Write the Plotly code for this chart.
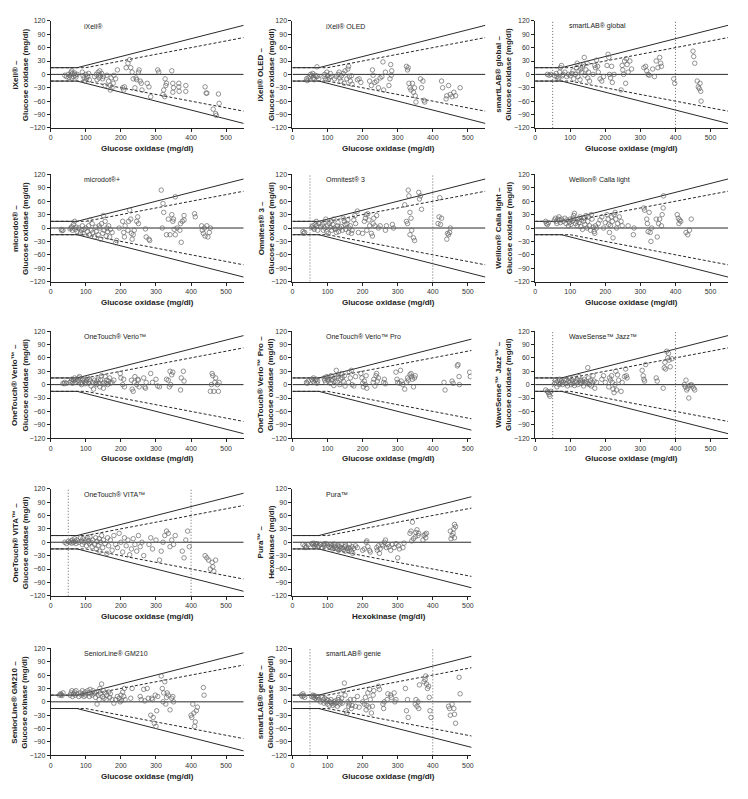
import plotly.graph_objects as go

# ---------------- data (x = reference method mg/dl, y = difference mg/dl) ----------------
X_IXELL = [40,45,50,55,58,60,62,65,68,70,72,75,60,52,90,92,95,100,102,105,108,110,98,125,130,135,138,140,142,145,148,150,132,155,160,165,170,172,175,178,170,180,190,185,205,208,210,215,220,225,228,232,235,240,243,245,250,252,255,258,260,275,280,285,305,308,320,325,322,326,328,330,345,348,350,348,365,365,366,385,385,440,443,445,463,470,472,478,480]
Y_IXELL = [-2,-5,0,-3,5,-8,2,-5,3,-2,-6,0,8,-7,5,-3,-8,0,-10,-5,2,-12,-15,-5,0,5,-8,8,-3,2,-10,-5,-12,-25,-2,-15,-25,-8,-30,-20,-35,-2,10,-10,-30,-35,-28,15,25,33,15,5,-10,-30,-8,-12,5,10,-15,-20,-35,-20,-28,-50,10,5,-45,-50,-35,-10,-25,-20,8,-20,-30,-40,-20,-28,-38,-25,-38,-28,-42,-42,-78,-88,-92,-44,-65]

X_OLED = [40,42,45,50,55,58,60,62,65,68,70,72,75,52,90,92,95,98,100,102,105,108,110,120,125,130,133,135,138,140,145,148,150,155,158,160,162,165,168,170,185,190,195,220,225,228,230,235,240,245,250,255,258,260,265,275,278,280,282,283,325,328,330,332,335,338,342,345,348,350,352,365,368,372,375,377,425,428,438,440,445,450,455,460,465,478]
Y_OLED = [-10,-14,-8,-5,-3,2,-8,-12,-2,-5,17,-4,-10,0,-5,0,-10,5,-3,-12,-8,2,-5,-10,-5,0,5,-8,-15,-3,2,-20,8,-10,12,18,-5,-15,-3,-22,-12,-10,-18,-15,-25,10,-2,-18,-15,-30,-8,-5,28,-35,5,-25,-10,22,-2,8,18,10,15,-20,-30,-35,-20,-40,-30,-48,-62,-10,-30,-15,-58,-62,-15,-30,-55,-48,-25,-45,-50,-40,-48,-30]

X_SLGLOBAL = [35,40,45,55,60,62,65,68,70,72,75,78,80,85,90,95,100,105,108,110,115,118,120,122,125,128,130,132,135,138,140,142,145,148,150,152,155,165,170,172,175,178,180,185,190,195,205,208,210,212,215,218,220,225,245,248,250,252,255,258,260,262,265,270,275,310,315,318,322,325,335,340,345,350,355,358,360,395,398,450,452,455,462,465,468,470,472,473]
Y_SLGLOBAL = [0,-2,0,-3,2,-5,-10,-8,5,15,20,-3,0,5,-5,0,-3,2,8,-10,0,15,25,-5,8,-12,12,5,18,22,38,-2,10,25,-8,5,-15,0,20,15,32,18,5,-10,-15,-5,20,45,38,0,-8,18,-18,0,-35,20,10,0,30,-20,35,22,5,30,12,15,18,8,0,-2,12,-5,30,15,38,25,18,-10,-20,52,40,25,-15,-28,-32,-20,-38,-60]

X_MICRODOT = [30,32,35,55,58,60,62,65,68,70,72,75,80,85,88,90,92,95,100,105,108,110,112,115,118,120,125,128,130,135,138,140,142,145,148,150,152,155,158,160,162,165,168,170,175,185,188,195,205,208,210,212,220,222,225,228,230,232,235,238,245,248,250,270,272,280,282,315,318,320,322,330,335,340,345,348,350,352,355,355,360,368,370,372,375,380,380,410,412,430,432,435,438,440,445,448,452,455]
Y_MICRODOT = [-3,-6,-5,-2,0,3,-5,8,15,-3,2,-8,0,-10,-5,5,-12,-3,0,-8,5,-15,18,-5,10,-10,-20,2,-8,-15,5,0,-25,10,-12,28,-5,15,-18,0,-8,5,-20,-3,-10,-33,-28,0,15,-10,-20,5,-5,15,40,20,-12,-25,-15,-5,15,25,10,-2,-20,-25,-28,85,0,55,35,-15,20,-15,30,15,20,-3,70,-15,0,-5,10,-32,15,28,18,32,25,5,-5,-12,0,-18,5,-20,-10,0]

X_OMNITEST = [30,32,35,55,58,60,62,65,68,70,72,75,80,85,88,90,92,95,98,100,102,105,108,110,112,115,118,120,122,125,128,130,132,135,140,142,145,148,150,152,155,158,160,162,165,168,170,175,178,180,185,188,200,205,208,210,212,215,218,220,225,228,230,232,235,240,245,250,265,268,285,288,320,325,328,330,332,335,335,338,340,345,348,360,362,365,368,415,418,420,422,425,440,442,445,448,450]
Y_OMNITEST = [-8,-12,-10,2,5,0,-3,8,15,5,-5,10,3,8,-5,12,0,20,-8,5,-12,10,2,15,-5,8,20,0,-3,-10,5,12,-8,0,3,-5,22,15,8,-3,10,18,-10,0,5,-12,-5,18,28,10,38,-10,-12,15,22,30,-5,32,18,5,-12,-18,10,22,5,28,0,5,-5,5,8,0,52,15,10,85,72,35,-15,22,-5,-22,-28,80,65,72,42,10,25,68,8,22,-25,-12,-15,-10,0]

X_WELLION = [30,32,35,38,55,58,60,62,65,68,70,72,75,80,85,88,90,95,98,100,102,105,108,110,112,115,118,120,122,125,128,130,132,135,138,140,142,145,148,150,152,155,158,160,162,165,168,170,172,175,180,185,190,195,200,205,208,210,212,215,218,220,222,225,228,230,232,235,240,245,248,265,280,282,310,312,318,320,322,325,328,330,332,345,348,352,355,360,362,365,366,405,408,410,412,415,430,435,440,445]
Y_WELLION = [15,10,8,12,18,22,15,10,20,25,18,12,20,15,22,10,18,5,12,20,8,15,22,28,33,10,15,5,20,12,25,3,18,-3,15,22,8,28,0,15,25,5,-5,30,20,2,-8,-12,5,0,10,18,25,0,12,30,20,8,-10,5,25,15,-22,30,35,20,0,10,25,15,5,5,-15,0,45,40,20,10,-8,35,-10,-30,0,20,-20,10,20,5,30,45,72,30,22,10,18,15,-10,-15,-5,20]

X_VERIO = [35,38,40,45,55,58,60,62,65,68,70,72,75,78,80,82,85,88,90,92,95,98,100,102,105,108,110,112,115,120,122,125,128,130,132,135,138,140,142,145,148,150,152,155,158,160,162,165,168,170,175,180,198,200,205,208,210,230,232,235,238,240,245,248,250,252,265,268,270,272,285,290,300,305,310,330,335,338,340,342,345,348,370,372,378,380,455,458,460,462,465,468,470,475,478,480]
Y_VERIO = [3,2,5,3,5,8,12,3,10,15,5,12,8,10,15,18,3,0,5,12,8,2,5,10,15,3,12,8,-3,5,-10,10,3,0,8,12,3,-5,10,20,2,-8,5,18,3,10,0,8,15,3,5,10,25,15,0,12,-5,10,-10,-15,5,18,0,12,10,-5,15,-5,-8,5,25,5,12,-3,-5,12,10,-5,30,0,22,28,-12,15,30,8,-15,0,25,20,-15,5,15,0,-15,5]

X_VERIOPRO = [40,42,45,55,58,60,62,65,68,70,72,90,92,95,98,100,102,105,108,110,112,115,118,120,122,125,128,130,132,135,138,140,142,145,148,150,160,162,165,168,170,175,180,195,198,200,202,205,208,210,212,230,232,235,238,240,242,245,260,262,265,295,298,300,305,308,310,315,320,325,328,330,335,338,340,342,345,348,350,432,435,455,458,470,472,475,476,505,507]
Y_VERIOPRO = [5,3,8,12,8,15,5,10,12,3,8,15,10,5,18,12,8,15,3,20,10,12,-2,15,8,32,5,18,22,0,12,25,15,8,20,-3,5,28,15,32,0,-3,18,25,15,3,-5,8,0,20,-8,5,12,-3,20,25,8,15,5,12,2,28,12,5,3,32,8,0,-10,5,15,10,22,25,18,12,-5,15,20,5,-12,8,3,42,45,18,0,28,18]

X_WAVESENSE = [30,35,38,40,42,45,55,58,60,62,65,68,70,72,75,78,80,85,88,90,92,95,98,100,102,105,108,110,112,115,118,120,122,125,128,130,132,135,138,140,142,145,148,150,152,155,158,160,162,165,168,170,175,190,195,200,210,212,215,218,220,222,225,228,230,232,235,238,245,248,255,258,260,262,305,308,310,312,315,345,348,365,368,370,372,375,378,380,382,385,390,425,428,430,432,435,438,440,445,448,452,455]
Y_WAVESENSE = [-12,-15,-18,-22,-26,-15,2,10,5,-5,8,0,12,3,8,0,5,10,2,12,-3,8,15,5,0,10,3,15,-2,8,5,12,0,18,5,10,3,8,-3,12,5,8,2,38,15,0,10,-3,5,20,8,-8,5,12,20,5,-5,15,10,20,5,-10,-18,0,30,-12,22,10,-15,5,18,35,20,15,32,20,12,8,45,15,8,-8,38,50,35,75,60,70,55,40,58,0,-5,10,-12,-8,-30,-2,0,-3,-8,-12]

X_VITA = [40,45,50,55,58,60,62,65,68,70,72,75,80,85,88,90,92,95,100,102,105,108,110,112,115,118,120,125,128,130,132,135,138,140,142,145,148,150,155,160,162,165,170,175,180,185,190,195,200,205,210,215,220,225,230,235,240,245,250,255,260,265,280,285,290,300,310,315,320,325,330,335,340,345,350,355,375,380,385,390,395,440,445,450,455,460,462,465,470]
Y_VITA = [0,-3,2,0,3,-2,5,0,8,2,-3,5,0,10,3,-5,8,0,5,-8,10,3,-3,12,0,-10,5,-5,10,-15,2,-8,8,-20,0,15,-12,5,-3,-25,10,-8,5,-18,15,-5,-12,20,0,-22,10,-8,5,-28,-15,8,-5,-20,15,-10,0,-30,-5,10,-15,5,-40,-20,0,15,25,20,-10,5,-5,15,-20,-35,5,25,-10,-30,-35,-40,-60,-45,-55,-65,-40]

X_PURA = [30,35,38,40,45,55,58,60,62,65,68,70,72,75,80,85,88,90,92,95,100,105,108,110,112,115,118,120,122,125,128,130,132,135,138,140,142,145,148,150,152,155,158,160,162,165,168,170,172,175,180,185,200,205,210,212,215,220,222,240,242,245,248,250,255,258,262,265,268,272,275,280,285,290,295,300,302,305,315,318,335,338,340,342,345,350,352,355,358,360,372,375,378,380,382,450,452,455,458,460,462,465,462]
Y_PURA = [-5,-8,-12,-10,-6,-3,-5,-2,-8,-4,-6,-3,-10,-8,-5,-12,-6,-4,-8,-3,-6,-10,-5,-12,-8,-15,-4,-10,-6,-12,-15,-8,-18,-10,-14,-6,-12,-16,-10,-20,-8,-14,-18,-12,-5,-15,-20,-10,-25,-14,-8,-12,-18,-15,0,3,-10,-18,-22,-12,-18,-8,-25,-15,-5,-8,0,5,-12,-5,-10,-18,-5,-12,-3,-35,-8,-15,-12,-2,20,25,3,45,8,12,22,28,15,20,5,15,18,10,20,25,8,15,20,30,40,35,10]

X_SENIOR = [25,28,30,32,35,55,58,60,62,65,68,70,72,75,80,85,88,90,92,95,98,100,105,108,110,112,115,118,120,125,128,130,132,135,138,140,142,145,148,150,152,155,158,160,165,168,170,175,180,185,190,195,198,200,202,205,208,210,212,228,232,255,258,265,268,275,278,285,288,290,292,295,298,300,302,305,315,318,320,322,325,328,330,332,335,340,345,348,350,400,402,405,408,410,412,415,418,435,437]
Y_SENIOR = [15,18,16,14,20,15,20,25,12,18,22,15,25,18,12,20,15,25,18,12,22,15,25,20,12,28,18,15,25,20,10,22,-5,15,5,30,18,40,12,25,8,20,5,15,22,10,18,5,-3,5,12,8,0,15,3,22,12,30,5,8,30,12,5,28,2,30,8,-30,8,5,-35,-48,15,-55,-20,12,58,30,0,20,45,-5,10,20,15,-18,8,12,0,-30,-35,-5,-25,-55,-45,-20,-12,32,15]

X_SLGENIE = [25,28,30,32,35,55,58,60,62,65,68,70,72,75,80,85,88,90,92,95,98,100,102,105,108,110,112,115,118,120,122,125,128,130,132,135,138,140,142,145,148,150,152,155,158,160,162,165,168,170,175,180,185,190,200,205,208,210,212,215,218,220,222,225,228,230,232,245,248,258,260,262,270,272,280,282,290,292,295,322,325,328,330,350,352,355,358,360,362,375,378,380,382,385,388,390,392,395,445,448,450,455,460,462,465,475,478]
Y_SLGENIE = [15,12,18,14,10,12,15,10,14,8,12,5,10,5,0,10,5,-3,8,0,5,-5,3,-8,0,5,-3,-8,0,-5,2,-2,-10,5,10,-5,0,8,-3,25,42,15,-20,-25,0,-10,-5,5,-15,-8,5,-10,12,-12,0,-5,10,-18,-8,20,-12,28,5,-25,-10,15,25,35,28,-5,-15,0,5,18,15,10,20,0,5,30,-20,5,-35,-5,5,-10,0,-15,38,45,50,58,40,30,35,10,-20,-35,-10,-15,-30,-5,-15,-28,-48,55,18]

# ISO 15197 acceptance-limit vertices
ISO2003_X = [0, 75, 550]
ISO2003_Y = [15, 15, 110]
ISO2013_X = [0, 100, 550]
ISO2013_Y = [15, 15, 82.5]
RANGE_LINES_X = [50, 400]

TICKS_X = [0, 100, 200, 300, 400, 500]
TICKS_Y = [-120, -90, -60, -30, 0, 30, 60, 90, 120]

GOX = "Glucose oxidase (mg/dl)"
panels = [
    ("iXell®", "iXell® –", GOX, GOX, X_IXELL, Y_IXELL, 0, 0, 550, False),
    ("iXell® OLED", "iXell® OLED –", GOX, GOX, X_OLED, Y_OLED, 0, 1, 550, False),
    ("smartLAB® global", "smartLAB® global –", GOX, GOX, X_SLGLOBAL, Y_SLGLOBAL, 0, 2, 550, True),
    ("microdot®+", "microdot® –", GOX, GOX, X_MICRODOT, Y_MICRODOT, 1, 0, 550, False),
    ("Omnitest® 3", "Omnitest® 3 –", GOX, GOX, X_OMNITEST, Y_OMNITEST, 1, 1, 550, True),
    ("Wellion® Calla light", "Wellion® Calla light –", GOX, GOX, X_WELLION, Y_WELLION, 1, 2, 550, False),
    ("OneTouch® Verio™", "OneTouch® Verio™ –", GOX, GOX, X_VERIO, Y_VERIO, 2, 0, 550, False),
    ("OneTouch® Verio™ Pro", "OneTouch® Verio™ Pro –", GOX, GOX, X_VERIOPRO, Y_VERIOPRO, 2, 1, 510, False),
    ("WaveSense™ Jazz™", "WaveSense™ Jazz™ –", GOX, GOX, X_WAVESENSE, Y_WAVESENSE, 2, 2, 550, True),
    ("OneTouch® VITA™", "OneTouch® VITA™ –", GOX, GOX, X_VITA, Y_VITA, 3, 0, 550, True),
    ("Pura™", "Pura™ –", "Hexokinase (mg/dl)", "Hexokinase (mg/dl)", X_PURA, Y_PURA, 3, 1, 510, False),
    ("SeniorLine® GM210", "SeniorLine® GM210 –", "Glucose oxinase (mg/dl)", GOX, X_SENIOR, Y_SENIOR, 4, 0, 550, False),
    ("smartLAB® genie", "smartLAB® genie –", "Glucose oxinase (mg/dl)", GOX, X_SLGENIE, Y_SLGENIE, 4, 1, 510, True),
]

W, H = 748, 799
COL_L = [49, 292, 536]
PX_PER_UNIT = 194 / 550
ROW_T = [17, 172, 330, 489, 650]
ROW_H = 108
YT_X = [18, 265, 504]
FONT = "Arial, Liberation Sans, sans-serif"
LINE_C = "#2a2a2a"

fig = go.Figure()
layout = dict()
annotations = []
for i, (label, yt1, yt2, xt, xs, ys, r, c, xmax, vlines) in enumerate(panels):
    n = i + 1
    xa = "x" if n == 1 else f"x{n}"
    ya = "y" if n == 1 else f"y{n}"
    x0 = COL_L[c]
    x1 = x0 + PX_PER_UNIT * xmax
    top = ROW_T[r]
    bot = top + ROW_H
    dom_x = [x0 / W, x1 / W]
    dom_y = [1 - bot / H, 1 - top / H]
    axcommon = dict(showline=True, linecolor="#222", linewidth=1, ticks="outside", ticklen=3,
                    tickwidth=1, tickcolor="#222", showgrid=False, zeroline=False,
                    tickfont=dict(size=7, color="#333", family=FONT))
    layout["xaxis" if n == 1 else f"xaxis{n}"] = dict(domain=dom_x, range=[0, xmax], anchor=ya,
                                                     tickvals=TICKS_X, **axcommon)
    layout["yaxis" if n == 1 else f"yaxis{n}"] = dict(domain=dom_y, range=[-120, 120], anchor=xa,
                                                     tickvals=TICKS_Y, **axcommon)
    for sgn in (1, -1):
        fig.add_trace(go.Scatter(x=ISO2003_X, y=[sgn * v for v in ISO2003_Y], mode="lines",
                                 line=dict(color=LINE_C, width=1), xaxis=xa, yaxis=ya,
                                 showlegend=False, hoverinfo="skip"))
        fig.add_trace(go.Scatter(x=ISO2013_X, y=[sgn * v for v in ISO2013_Y], mode="lines",
                                 line=dict(color=LINE_C, width=1, dash="3px,2px"), xaxis=xa, yaxis=ya,
                                 showlegend=False, hoverinfo="skip"))
    fig.add_trace(go.Scatter(x=[0, xmax], y=[0, 0], mode="lines", line=dict(color=LINE_C, width=1),
                             xaxis=xa, yaxis=ya, showlegend=False, hoverinfo="skip"))
    if vlines:
        for vx in RANGE_LINES_X:
            fig.add_trace(go.Scatter(x=[vx, vx], y=[-120, 120], mode="lines",
                                     line=dict(color="#666", width=1, dash="1px,2px"),
                                     xaxis=xa, yaxis=ya, showlegend=False, hoverinfo="skip"))
    fig.add_trace(go.Scatter(x=xs, y=ys, mode="markers", xaxis=xa, yaxis=ya, showlegend=False,
                             marker=dict(symbol="circle-open", size=4.5, color="#666",
                                         line=dict(width=0.7, color="#666"))))
    annotations.append(dict(text=label, x=90, y=108, xref=xa, yref=ya, xanchor="left",
                            yanchor="middle", showarrow=False,
                            font=dict(size=7, color="#222", family=FONT)))
    annotations.append(dict(text=f"<b>{xt}</b>", x=(x0 + COL_L[c] + 194) / 2 / W, y=1 - (bot + 21) / H,
                            xref="paper", yref="paper", xanchor="center", yanchor="middle",
                            showarrow=False, font=dict(size=8, color="#222", family=FONT)))
    annotations.append(dict(text=f"<b>{yt1}<br>{yt2}</b>", x=YT_X[c] / W, y=1 - (top + ROW_H / 2) / H,
                            xref="paper", yref="paper", xanchor="center", yanchor="middle",
                            textangle=-90, showarrow=False,
                            font=dict(size=8, color="#222", family=FONT)))

fig.update_layout(width=W, height=H, margin=dict(l=0, r=0, t=0, b=0), paper_bgcolor="white",
                  plot_bgcolor="white", annotations=annotations, font=dict(family=FONT), **layout)
fig.write_html("out.html", config={"displayModeBar": False},
               post_script="document.body.style.margin='0';document.body.style.padding='0';")
